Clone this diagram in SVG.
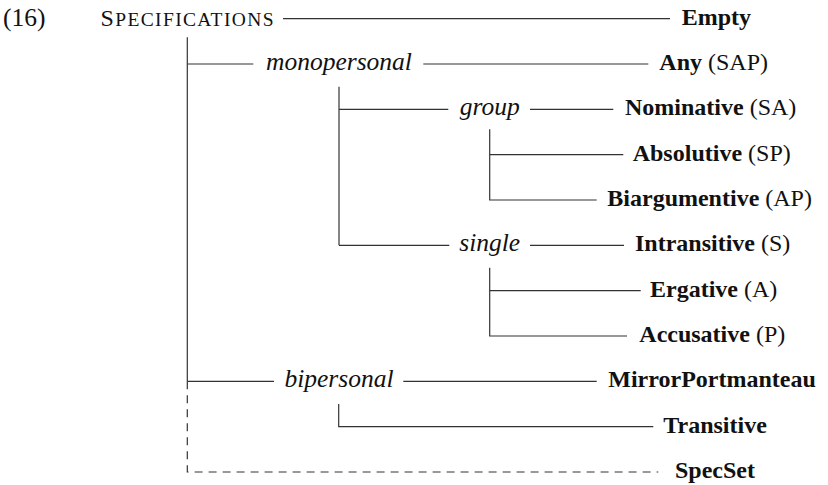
<svg xmlns="http://www.w3.org/2000/svg" width="828" height="485" viewBox="0 0 828 485">
<style>
text{font-family:"Liberation Serif","Times New Roman",serif;font-size:24px;fill:#111}
.b{font-weight:bold}
.i{font-style:italic;text-anchor:middle;font-size:25.5px}
.r{font-weight:normal}
.sc{text-anchor:middle;font-size:24px}
.sm{font-size:19.5px}
.ln{stroke:#333;stroke-width:1.2;fill:none}
.ds{stroke:#333;stroke-width:1.2;fill:none;stroke-dasharray:8 6}
</style>
<rect width="828" height="485" fill="#fff"/>
<g id="connectors">
<path class="ln" d="M283,18.7H670"/>
<path class="ln" d="M187.3,37.3V381.3"/>
<path class="ds" d="M187.3,381.3V472H658.3"/>
<path class="ln" d="M187.3,64H253.3M423.3,64H648.3"/>
<path class="ln" d="M339,86.7V245.3"/>
<path class="ln" d="M339,109.3H448.3M530,109.3H613.3"/>
<path class="ln" d="M489.7,129.3V200H596.7M489.7,154.7H623.3"/>
<path class="ln" d="M339,245.3H449.3M530,245.3H624"/>
<path class="ln" d="M489.7,267.7V336H627M489.7,290.7H640.7"/>
<path class="ln" d="M187.3,381.3H274M403.3,381.3H596.7"/>
<path class="ln" d="M338.7,404V426.7H653.3"/>
</g>
<g id="label16"><text x="3" y="25.5" style="font-size:25.5px">(16)</text></g>
<g id="specifications"><text class="sc" x="187" y="25.5" textLength="173" lengthAdjust="spacing">S<tspan class="sm">PECIFICATIONS</tspan></text></g>
<g id="empty"><text class="b" x="681.7" y="25">Empty</text></g>
<g id="monopersonal"><text class="i" x="339" y="70">monopersonal</text></g>
<g id="any"><text class="b" x="659.3" y="70">Any <tspan class="r">(SAP)</tspan></text></g>
<g id="group"><text class="i" x="489.7" y="115.3">group</text></g>
<g id="nominative"><text class="b" x="625" y="115.3">Nominative <tspan class="r">(SA)</tspan></text></g>
<g id="absolutive"><text class="b" x="632.7" y="160.7">Absolutive <tspan class="r">(SP)</tspan></text></g>
<g id="biargumentive"><text class="b" x="607.3" y="206">Biargumentive <tspan class="r">(AP)</tspan></text></g>
<g id="single"><text class="i" x="489.7" y="251.3">single</text></g>
<g id="intransitive"><text class="b" x="635" y="251.3">Intransitive <tspan class="r">(S)</tspan></text></g>
<g id="ergative"><text class="b" x="650" y="296.7">Ergative <tspan class="r">(A)</tspan></text></g>
<g id="accusative"><text class="b" x="639.3" y="342">Accusative <tspan class="r">(P)</tspan></text></g>
<g id="bipersonal"><text class="i" x="339" y="387.3">bipersonal</text></g>
<g id="mirrorportmanteau"><text class="b" x="608.3" y="387.3">MirrorPortmanteau</text></g>
<g id="transitive"><text class="b" x="663.3" y="432.7">Transitive</text></g>
<g id="specset"><text class="b" x="675" y="478">SpecSet</text></g>
</svg>
